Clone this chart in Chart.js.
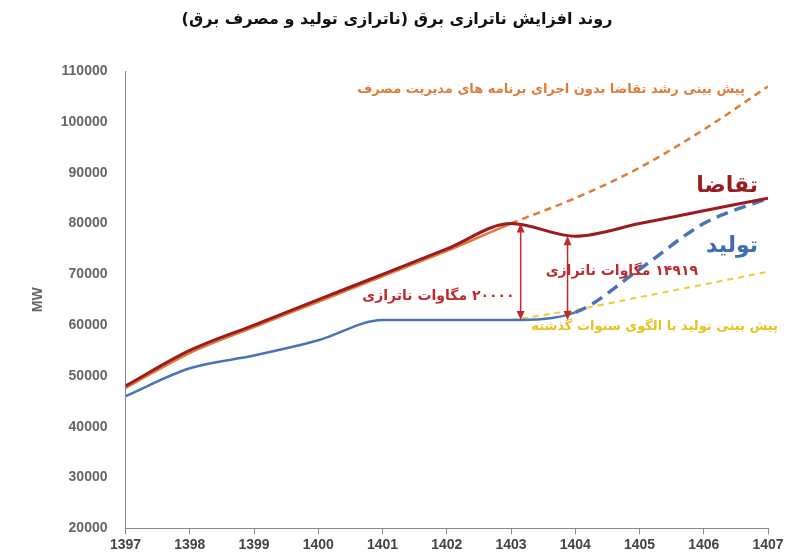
<!DOCTYPE html>
<html>
<head>
<meta charset="utf-8">
<script src="https://cdn.jsdelivr.net/npm/chart.js@4"></script>
<style>
  body { margin: 0; background: #fff; }
  #wrap { width: 800px; height: 557px; }
</style>
</head>
<body>
<div id="wrap"><canvas id="chart"></canvas></div>
<script>
// Years and series values
const years = [1397, 1398, 1399, 1400, 1401, 1402, 1403, 1404, 1405, 1406, 1407];
const demand = [48000, 55000, 60000, 65000, 70000, 75000, 80000, 77500, 80000, 82500, 85000];
const demandNoMgmt = [47600, 54500, 59600, 64600, 69600, 74600, 80000, 85000, 91000, 98500, 107000];
const production = [46000, 51500, 54000, 57000, 61000, 61000, 61000, 62500, 71000, 80000, 85000];
const productionTrend = [null, null, null, null, null, null, 61000, 63000, 65500, 68000, 70500];

// Gap arrows: [x, top, bottom, label]
const gaps = [
    [1403.15, 80000, 61000, '۲۰۰۰۰ مگاوات ناترازی'],
    [1403.88, 77500, 61000, '۱۴۹۱۹ مگاوات ناترازی']
];

const toPoints = arr => years.map((y, i) => ({ x: y, y: arr[i] }));
const dashAfter = idx => ({ borderDash: ctx => ctx.p0DataIndex >= idx ? [7, 5] : undefined });

const annotate = {
    id: 'annotate',
    afterDatasetsDraw(chart) {
        const { ctx, scales: { x, y } } = chart;
        ctx.save();
        ctx.direction = 'rtl';
        ctx.strokeStyle = '#c0282d';
        ctx.fillStyle = '#c0282d';
        ctx.lineWidth = 1.5;
        gaps.forEach(([gx, top, bottom]) => {
            const px = x.getPixelForValue(gx);
            const t = y.getPixelForValue(top), b = y.getPixelForValue(bottom);
            ctx.beginPath(); ctx.moveTo(px, t + 2); ctx.lineTo(px, b - 2); ctx.stroke();
            [[t, 1], [b, -1]].forEach(([py, d]) => {
                ctx.beginPath();
                ctx.moveTo(px, py);
                ctx.lineTo(px - 4, py + d * 9);
                ctx.lineTo(px + 4, py + d * 9);
                ctx.closePath(); ctx.fill();
            });
        });
        ctx.textAlign = 'right';
        ctx.textBaseline = 'middle';
        ctx.font = 'bold 14px "DejaVu Sans", sans-serif';
        ctx.fillText(gaps[0][3], x.getPixelForValue(gaps[0][0]) - 6, 296);
        ctx.fillText(gaps[1][3], 698, 271);

        ctx.font = 'bold 13px "DejaVu Sans", sans-serif';
        ctx.fillStyle = '#e07b39';
        ctx.fillText('پیش بینی رشد تقاضا بدون اجرای برنامه های مدیریت مصرف', 745, 90);
        ctx.fillStyle = '#e8c21e';
        ctx.fillText('پیش بینی تولید با الگوی سنوات گذشته', 778, 327);
        ctx.font = 'bold 22px "DejaVu Sans", sans-serif';
        ctx.fillStyle = '#9b1b1f';
        ctx.fillText('تقاضا', 758, 186);
        ctx.fillStyle = '#3f6db3';
        ctx.fillText('تولید', 758, 246);
        ctx.restore();
    }
};

new Chart(document.getElementById('chart'), {
    type: 'line',
    data: {
        datasets: [
            {
                label: 'تقاضا',
                data: toPoints(demand),
                borderColor: '#9b1b1f',
                borderWidth: 3
            },
            {
                label: 'پیش بینی رشد تقاضا',
                data: toPoints(demandNoMgmt),
                borderColor: '#e07b39',
                borderWidth: 2.5,
                segment: dashAfter(6)
            },
            {
                label: 'تولید',
                data: toPoints(production),
                borderColor: '#4a74b8',
                borderWidth: 2.5,
                segment: { borderDash: ctx => ctx.p0DataIndex >= 7 ? [12, 7] : undefined, borderWidth: ctx => ctx.p0DataIndex >= 7 ? 3.5 : 2.5 }
            },
            {
                label: 'پیش بینی تولید',
                data: toPoints(productionTrend),
                borderColor: '#f0cc30',
                borderWidth: 2,
                borderDash: [6, 5]
            }
        ]
    },
    options: {
        responsive: true,
        maintainAspectRatio: false,
        animation: false,
        elements: { point: { radius: 0 }, line: { tension: 0.4, cubicInterpolationMode: 'monotone' } },
        layout: { padding: { top: 10, right: 32, left: 26, bottom: 0 } },
        plugins: {
            legend: { display: false },
            tooltip: { enabled: false },
            title: {
                display: true,
                text: 'روند افزایش ناترازی برق (ناترازی تولید و مصرف برق)',
                font: { size: 16, weight: 'bold', family: '"DejaVu Sans", sans-serif' },
                color: '#111',
                padding: { top: 0, bottom: 42 }
            }
        },
        scales: {
            x: {
                type: 'linear',
                min: 1397,
                max: 1407,
                ticks: { stepSize: 1, color: '#444', font: { size: 14, weight: 'bold' }, callback: v => String(v) },
                grid: { display: true, drawOnChartArea: false, color: '#888', tickLength: 6 },
                border: { color: '#888' }
            },
            y: {
                min: 20000,
                max: 110000,
                ticks: { stepSize: 10000, color: '#666', font: { size: 14, weight: 'bold' }, callback: v => String(v), padding: 10 },
                grid: { display: false },
                border: { color: '#888' },
                title: { display: true, text: 'MW', color: '#666', font: { size: 14, weight: 'bold' } }
            }
        }
    },
    plugins: [annotate]
});
</script>
</body>
</html>
